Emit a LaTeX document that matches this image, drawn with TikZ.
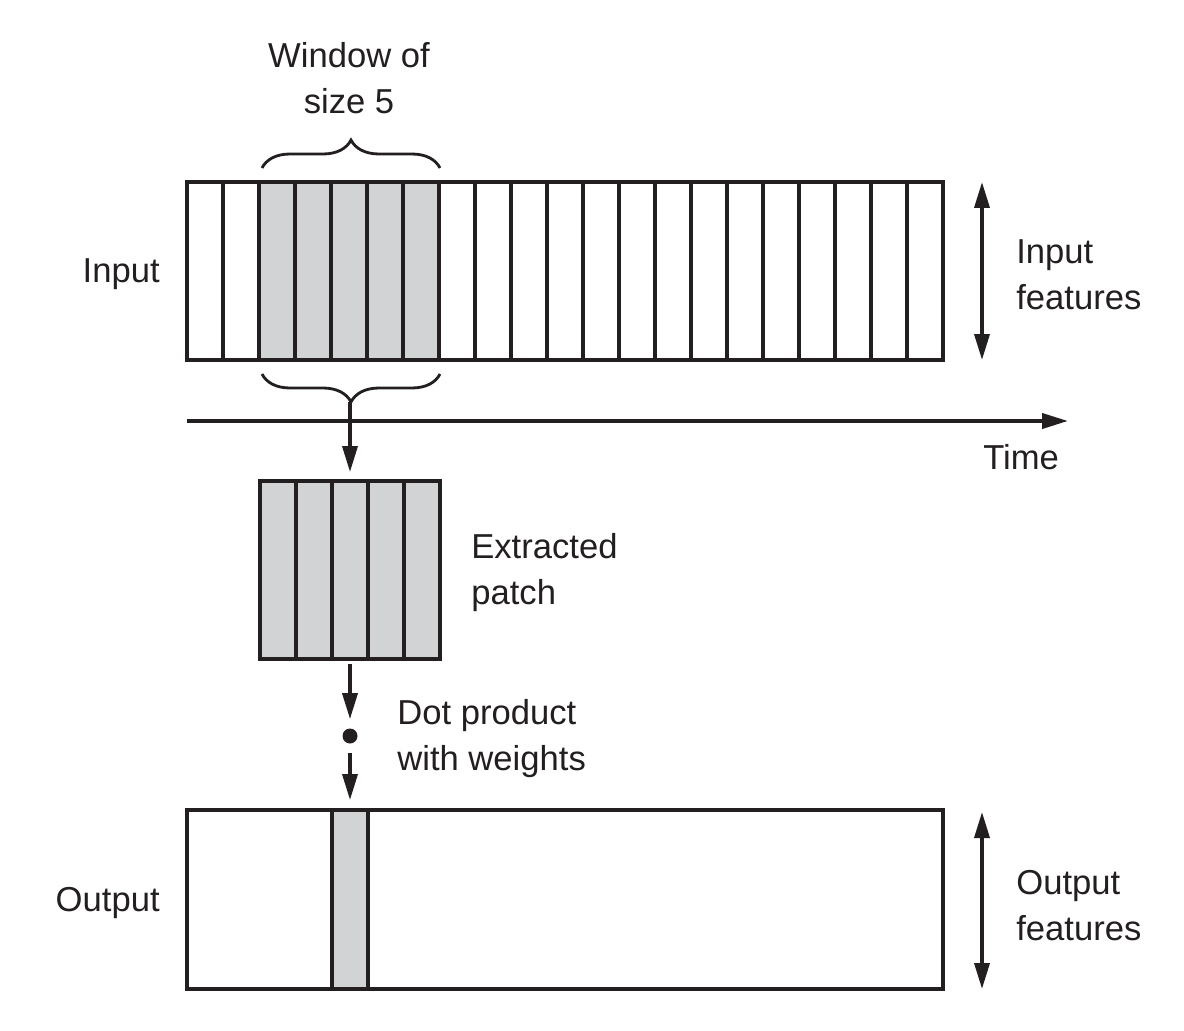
\documentclass[tikz,border=0pt]{standalone}
\usepackage{fontspec}
\setmainfont{Liberation Sans}
\usetikzlibrary{arrows.meta,positioning,decorations.pathreplacing}
\definecolor{patchgray}{RGB}{209,211,212}
\definecolor{inkdark}{RGB}{35,31,32}

\tikzset{
  cell/.style={draw=inkdark, line width=1.9pt, minimum width=0.72cm, minimum height=3.56cm, inner sep=0pt, outer sep=0pt},
  hot/.style={cell, fill=patchgray},
  lbl/.style={align=left, text=inkdark, font=\fontsize{19.7}{26.2}\selectfont, inner sep=0pt},
  flow/.style={draw=inkdark, line width=2pt, -{Triangle[length=0.52cm,width=0.3cm]}},
  span/.style={draw=inkdark, line width=2pt, {Triangle[length=0.52cm,width=0.3cm]}-{Triangle[length=0.52cm,width=0.3cm]}},
  curly/.style={draw=inkdark, decorate, decoration={brace, amplitude=0.56cm}, line width=1.6pt}
}

\begin{document}
\begin{tikzpicture}[x=0.02cm, y=-0.02cm]
  \useasboundingbox (0,0) rectangle (1184,1031);

  % input sequence
  \foreach \i in {1,2,8,9,10,11,12,13,14,15,16,17,18,19,20,21}
    \node[cell] (in\i) at ({187+36*(\i-0.5)},271) {};
  \foreach \i in {3,...,7}
    \node[hot] (in\i) at ({187+36*(\i-0.5)},271) {};
  \node[lbl, anchor=east] (inlbl) at (160,274) {Input};

  % window braces
  \coordinate (wa) at (262,168);
  \coordinate (wb) at (440,168);
  \draw[curly] (wa) -- (wb);
  \node[lbl, align=center] (win) at (349,78) {Window of\\size 5};
  \coordinate (ba) at (440,374);
  \coordinate (bb) at (262,374);
  \draw[curly] (ba) -- (bb);
  \coordinate (tip) at (350,402);

  % time axis
  \coordinate (t0) at (187,421);
  \coordinate (t1) at (1068,421);
  \draw[draw=inkdark, line width=2.2pt, -{Triangle[length=0.52cm,width=0.3cm]}] (t0) -- (t1);
  \node[lbl, anchor=west] (time) at (983,457) {Time};

  % extracted patch
  \foreach \i in {1,...,5}
    \node[hot] (p\i) at ({260+36*(\i-0.5)},570) {};
  \node[lbl, anchor=west] (patch) at (471,573) {Extracted\\patch};
  \draw[flow, shorten >=0.18cm] (tip) -- (p3.north);

  % dot product
  \node[circle, fill=inkdark, inner sep=0pt, minimum size=0.3cm] (dot) at (350,736) {};
  \node[lbl, anchor=west] (dotlbl) at (397,739) {Dot product\\with weights};

  % output
  \node[draw=inkdark, line width=1.9pt, minimum width=15.12cm, minimum height=3.58cm, inner sep=0pt] (out) at (565,899.5) {};
  \node[hot, minimum height=3.58cm] (oc) at (350,899.5) {};
  \node[lbl, anchor=east] (outlbl) at (160,903) {Output};

  \draw[flow, shorten <=0.1cm, shorten >=0.18cm] (p3.south) -- (dot);
  \draw[flow, shorten <=0.18cm, shorten >=0.2cm] (dot) -- (oc.north);

  % feature axes
  \coordinate (fa) at (982,182);
  \coordinate (fb) at (982,360);
  \draw[span] (fa) -- (fb);
  \node[lbl, anchor=west] (infeat) at (1016,275) {Input\\features};
  \coordinate (ga) at (982,812);
  \coordinate (gb) at (982,989);
  \draw[span] (ga) -- (gb);
  \node[lbl, anchor=west] (outfeat) at (1016,906) {Output\\features};
\end{tikzpicture}
\end{document}
